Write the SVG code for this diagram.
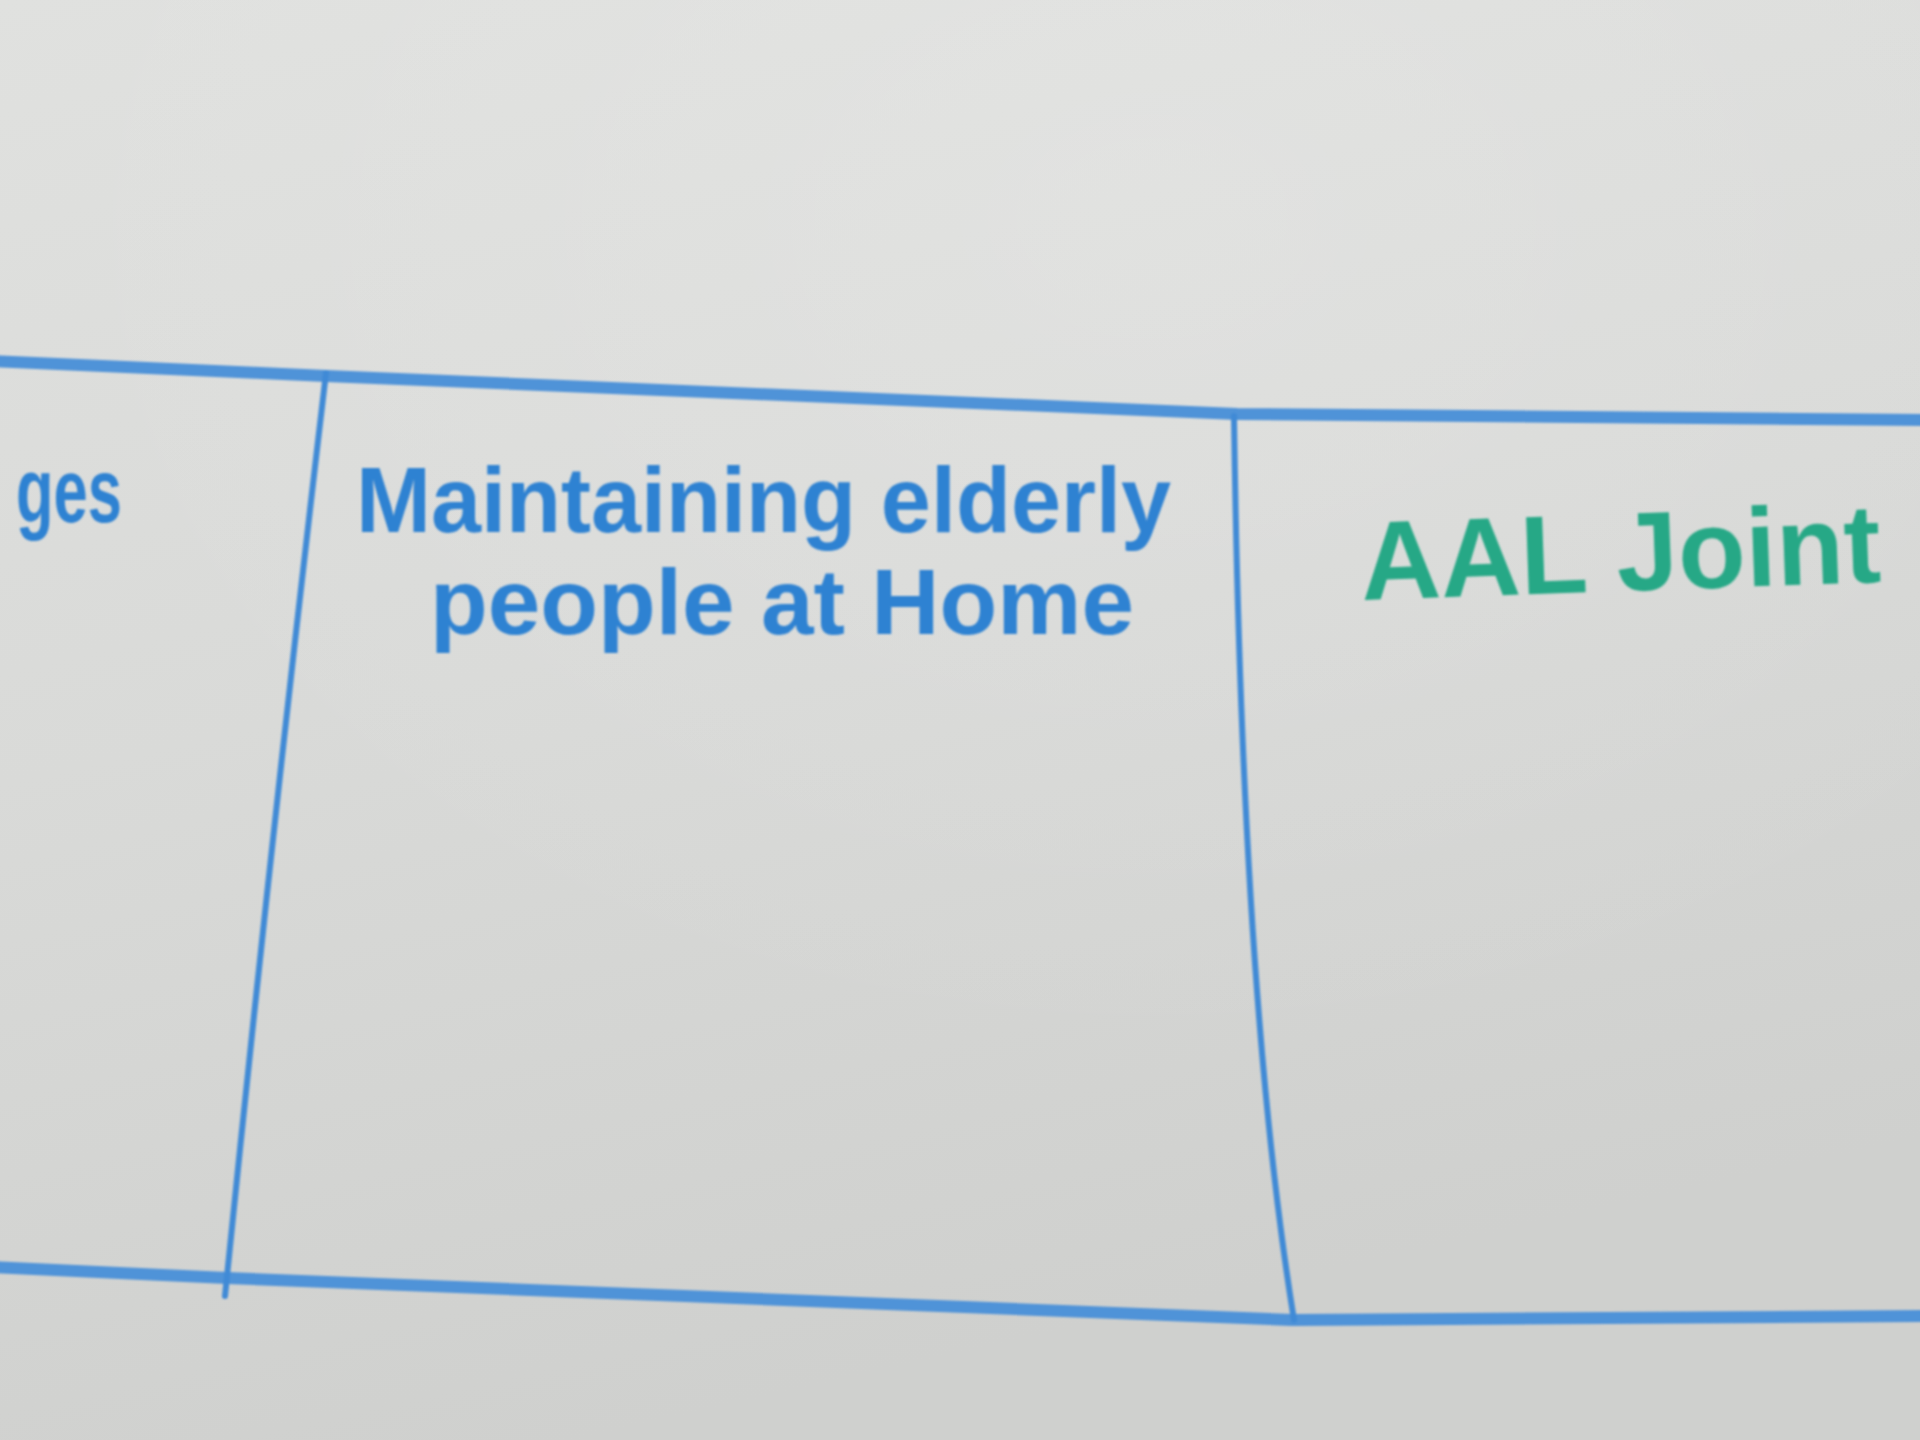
<svg xmlns="http://www.w3.org/2000/svg" width="1920" height="1440" viewBox="0 0 1920 1440">
  <defs>
    <linearGradient id="board" x1="0" y1="0" x2="0.3" y2="1">
      <stop offset="0" stop-color="#e0e1df"/>
      <stop offset="0.5" stop-color="#d9dad8"/>
      <stop offset="1" stop-color="#cfd0ce"/>
    </linearGradient>
    <radialGradient id="glare" cx="0.6" cy="0.15" r="0.6">
      <stop offset="0" stop-color="#ffffff" stop-opacity="0.15"/>
      <stop offset="1" stop-color="#ffffff" stop-opacity="0"/>
    </radialGradient>
    <filter id="soft" x="-5%" y="-5%" width="110%" height="110%">
      <feGaussianBlur stdDeviation="1.2"/>
    </filter>
  </defs>
  <style>
    .rule { fill: none; stroke: #4f93d8; stroke-linecap: round; stroke-linejoin: round; }
    .h { stroke-width: 12; }
    .v { stroke-width: 6; stroke: #3f8ad6; }
    .ink { font-family: "Liberation Sans", "DejaVu Sans", sans-serif; font-weight: bold; }
    .blue { fill: #2f82d2; }
    .green { fill: #27a886; }
  </style>

  <!-- whiteboard surface -->
  <rect width="1920" height="1440" fill="url(#board)"/>
  <rect width="1920" height="1440" fill="url(#glare)"/>

  <!-- table rules drawn with marker -->
  <g id="connectors" filter="url(#soft)">
    <path class="rule h" d="M -10 361 L 326 376 L 1237 414 L 1930 420"/>
    <path class="rule h" d="M -10 1267 L 227 1278 L 1292 1320 L 1930 1316"/>
    <path class="rule v" d="M 326 373 Q 272 830 225 1296"/>
    <path class="rule v" d="M 1234 416 Q 1242 1000 1294 1320"/>
  </g>

  <!-- column headings -->
  <g id="col-left" filter="url(#soft)">
    <text class="ink blue" x="16" y="522" font-size="90" textLength="106" lengthAdjust="spacingAndGlyphs">ges</text>
  </g>

  <g id="col-middle" filter="url(#soft)">
    <text class="ink blue" x="356" y="532" font-size="92" textLength="815" lengthAdjust="spacingAndGlyphs">Maintaining elderly</text>
    <text class="ink blue" x="430" y="634" font-size="92" textLength="704" lengthAdjust="spacingAndGlyphs">people at Home</text>
  </g>

  <g id="col-right" filter="url(#soft)">
    <text class="ink green" x="1362" y="600" font-size="112" textLength="520" lengthAdjust="spacingAndGlyphs" transform="rotate(-2 1362 600)">AAL Joint</text>
  </g>
</svg>
